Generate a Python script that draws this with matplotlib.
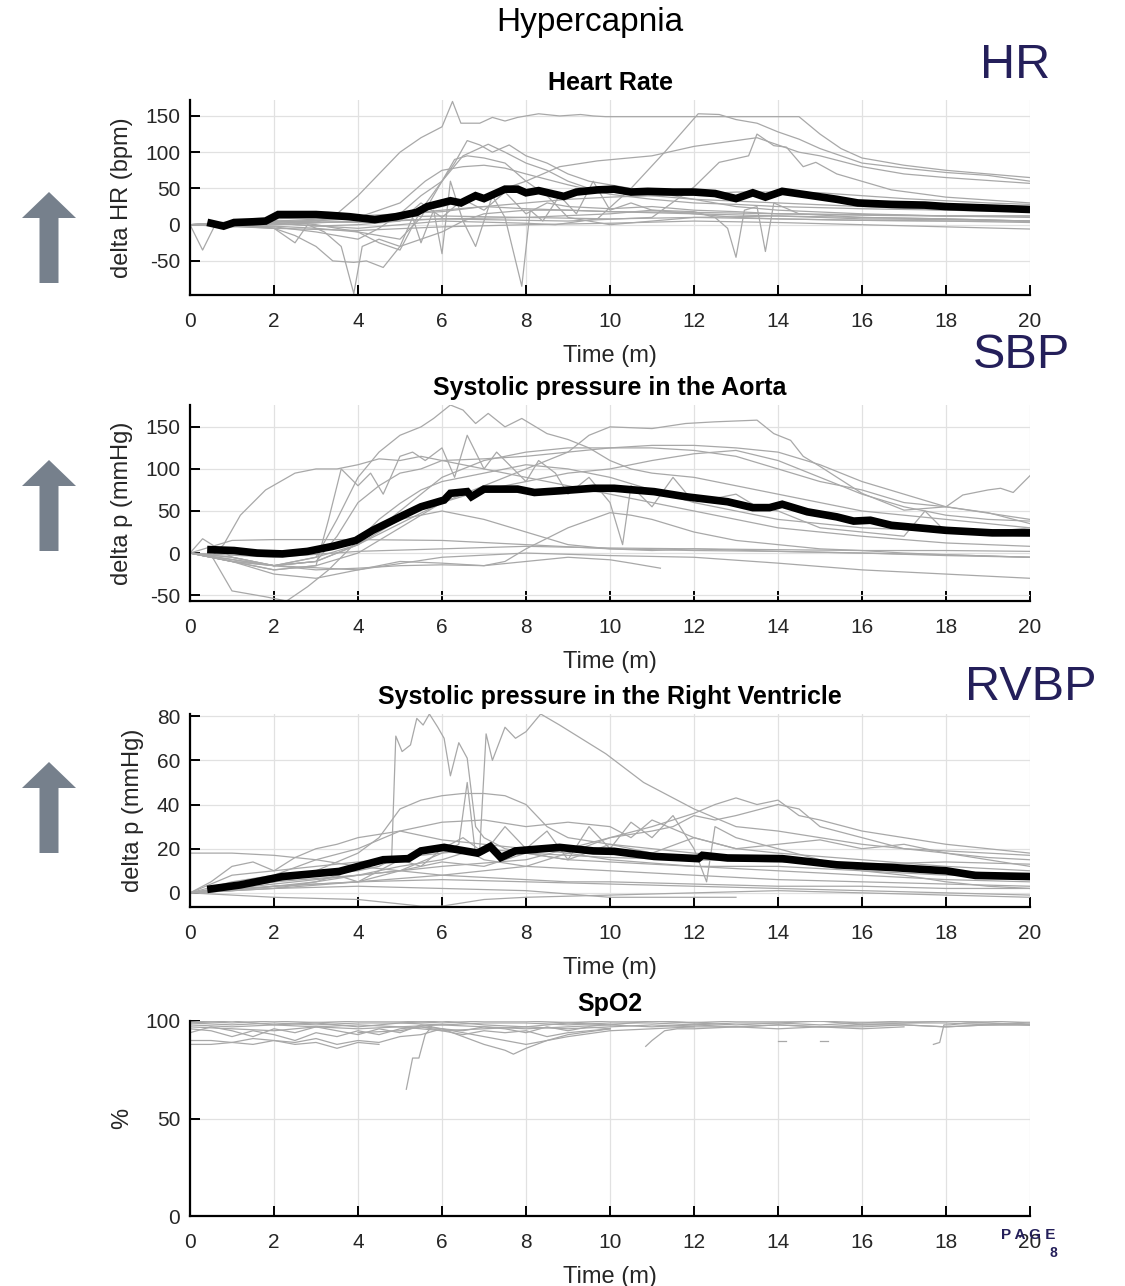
import numpy as np
import matplotlib
matplotlib.use('Agg')
from matplotlib import pyplot as plt
from matplotlib.patches import Polygon

plt.rcParams['font.family'] = ['Liberation Sans', 'DejaVu Sans']
plt.rcParams['axes.unicode_minus'] = False

# ---------------- data ----------------
# Heart rate, individual subjects
hr_gray_t = [
    [0, 1, 2, 3, 3.5, 4, 4.5, 5, 5.5, 6, 6.25, 6.45, 6.9, 7.2, 7.5, 7.8, 8.3, 8.8, 9.3, 9.6, 9.9, 14.5, 15, 15.5, 16, 17, 18, 19, 20],
    [0, 2, 4, 6, 8, 8.7, 9.7, 10.5, 11.3, 12.1, 12.6, 13, 13.5, 14, 14.5, 15, 15.5, 16, 17, 18, 19, 20],
    [0, 3, 6, 9, 11, 12, 12.6, 13.3, 13.5, 13.9, 14.2, 14.6, 14.9, 15.4, 16.7, 18, 20],
    [0, 2, 3, 4, 4.5, 5, 5.5, 6, 6.3, 6.6, 6.9, 7.2, 7.6, 8, 8.5, 9, 9.5, 10, 11, 12, 13, 14, 16, 18, 20],
    [0, 2, 3, 4, 5, 5.5, 6, 6.5, 7.1, 7.5, 8, 8.5, 9, 9.5, 10, 11, 12, 14, 16, 18, 20],
    [0, 1, 2, 3, 4, 5, 5.6, 6, 6.5, 7, 7.5, 8, 9, 10, 11, 12, 13, 14, 16, 18, 20],
    [0, 2, 4, 5, 6, 7, 8, 8.8, 9.7, 11, 12, 13.5, 14.5, 15, 16, 17, 18, 20],
    [0, 1, 2, 2.5, 3, 3.4, 3.9, 4.2, 4.6, 5, 5.5, 6, 6.5, 7, 8, 9, 10, 12, 14, 16, 18, 20],
    [0, 0.3, 0.6, 1, 2, 2.5, 2.8, 3.2, 3.6, 3.9, 4.1, 4.5, 5, 5.3, 5.5, 5.8, 6, 6.2, 6.5, 6.8, 7.2, 7.5, 7.9, 8.1, 8.4, 8.8, 9.2, 9.6, 10, 10.5, 11, 12, 13, 14, 16, 18, 20],
    [0, 2, 4, 6, 8, 10, 11, 12, 12.5, 12.8, 13.0, 13.2, 13.5, 13.7, 13.9, 14.5, 16, 18, 20],
    [0, 2, 4, 6, 8, 10, 12, 14, 16, 18, 20],
    [0, 2, 4, 5, 6, 7, 8, 9, 10, 12, 14, 16, 18, 20],
    [0, 2, 4, 6, 8, 10, 12, 14, 16, 18, 20],
    [0, 1, 2, 3, 4, 4.5, 5, 5.5, 6, 6.3, 6.6, 7, 7.5, 8, 8.5, 9, 10, 11, 12, 14, 16, 18, 20],
    [0, 1, 2, 3, 4, 5, 6, 7, 8, 9, 10, 11, 12, 13, 14, 15, 16, 17, 18, 19, 20],
    [0, 1, 2, 3, 4, 5, 5.5, 6, 6.5, 7, 7.5, 8, 8.5, 9, 10, 11, 12, 13, 14, 16, 18, 20],
]
hr_gray_v = [
    [0, 3, 5, 3, 15, 40, 70, 100, 120, 135, 170, 140, 140, 148, 143, 148, 153, 150, 152, 150, 149, 149, 125, 105, 92, 82, 75, 70, 65],
    [0, 2, -5, 5, 2, 0, 8, 50, 100, 153, 152, 145, 140, 128, 118, 105, 95, 85, 78, 72, 68, 60],
    [0, 3, 8, 5, 10, 52, 86, 95, 125, 109, 107, 80, 86, 70, 48, 38, 30],
    [0, -3, -10, -20, -5, 15, 40, 60, 85, 116, 110, 100, 110, 95, 85, 70, 60, 55, 45, 35, 25, 20, 15, 12, 10],
    [0, 5, 0, -10, -20, 10, 60, 95, 111, 100, 85, 75, 60, 50, 45, 40, 35, 30, 25, 20, 18],
    [0, 2, 4, 6, 10, 30, 60, 75, 80, 82, 78, 70, 55, 42, 35, 30, 28, 25, 22, 20, 18],
    [0, 0, 5, 15, 25, 40, 60, 80, 88, 95, 108, 120, 100, 95, 80, 70, 65, 57],
    [0, -2, -5, -15, -30, -50, -52, -50, -59, -30, -20, -10, 5, 15, 20, 20, 18, 15, 12, 10, 8, 5],
    [0, -35, 0, 2, -5, -25, 0, -10, -30, -95, -30, -20, -30, 10, -25, 20, -40, 60, 5, -30, 40, 10, -85, 20, 5, 40, 15, 60, 20, 30, 20, 15, 10, 8, 6, 5, 3],
    [0, 5, 3, 8, 10, 15, 20, 18, 10, -5, -45, 20, 25, -37, 30, 15, 10, 8, 5],
    [0, -5, -8, -3, 0, 2, 5, 3, 0, -3, -6],
    [0, 3, 8, 15, 20, 25, 22, 20, 18, 17, 15, 13, 12, 12],
    [0, 5, 10, 12, 10, 8, 10, 8, 6, 5, 5],
    [0, 0, -2, -5, -10, -25, -35, 20, 60, 90, 95, 92, 85, 60, 40, 10, 0, 5, 10, 12, 8, 7, 5],
    [0, 4, 8, 10, 12, 15, 18, 25, 30, 35, 38, 40, 42, 45, 45, 44, 40, 36, 33, 30, 28],
    [0, -3, 2, -2, 0, 5, 30, 10, 35, 20, 45, 15, 30, 25, 22, 25, 20, 18, 15, 14, 12, 12],
]
hr_mean_t = [0.5, 0.8, 1.05, 1.5, 1.8, 2.1, 2.5, 3.0, 3.3, 3.8, 4.4, 4.9, 5.4, 5.65, 6.2, 6.45, 6.8, 7.0, 7.5, 7.8,
             8.0, 8.3, 8.9, 9.2, 9.7, 10.1, 10.5, 10.9, 11.5, 12.0, 12.5, 13.0, 13.4, 13.7, 14.1, 14.7, 15.4, 15.9, 16.7, 17.5,
             18.0, 19.0, 20.0]
hr_mean_v = [2, -2, 3, 4, 5, 14, 14, 14, 13, 11, 7, 11, 17, 25, 33, 30, 40, 36, 49, 49,
             44, 47, 39, 45, 48, 49, 45, 46, 45, 45, 43, 36, 44, 38, 46, 41, 35, 30, 28, 27,
             25, 23, 21]

# Systolic pressure in the aorta
sbp_gray_t = [
    [0, 0.5, 0.8, 1.2, 1.8, 2.5, 3, 3.5, 4, 4.5, 5, 5.5, 6, 7, 8, 9, 10, 11, 12, 13, 14, 15, 16, 18, 20],
    [0, 1, 2, 3, 3.5, 4, 4.5, 5, 5.5, 5.8, 6.2, 6.5, 6.8, 7.1, 7.5, 7.9, 8.5, 9, 9.5, 10, 10.5, 11, 12, 13, 14, 15, 16, 17, 18, 19, 20],
    [0, 1, 2, 3, 4, 5, 6, 7, 8, 9, 9.5, 10, 11, 11.8, 12.5, 13.5, 13.9, 14.3, 14.6, 15, 16, 17, 18, 19, 20],
    [0, 1, 2, 3, 4, 5, 6, 7, 8, 9, 10, 11, 12, 13, 14, 15, 16, 17, 18, 18.4, 19, 19.3, 19.6, 20],
    [0, 0.5, 1.0, 1.8, 2.3, 2.8, 3.3, 4, 4.5, 5, 5.5, 6, 7, 8, 9, 10, 11, 12, 13, 14, 15, 16, 17, 18, 20],
    [0, 1, 2, 3, 4, 5, 6, 7, 8, 9, 10, 10.5, 11.2],
    [0, 2, 4, 6, 8, 10, 12, 14, 16, 18, 20],
    [0, 2, 4, 6, 8, 10, 12, 14, 16, 18, 20],
    [0, 1, 2, 4, 6, 8, 10, 12, 14, 16, 18, 20],
    [0, 1, 2, 3, 4, 5, 6, 6.5, 7, 8, 9, 10, 11, 12, 14, 16, 18, 20],
    [0, 1, 2, 3, 4, 5, 6, 7, 7.5, 8, 9, 10, 10.5, 11, 12, 13, 14, 15, 16, 17, 18, 20],
    [0, 1, 2, 3, 3.5, 4, 4.5, 5, 5.5, 6, 6.5, 7, 8, 9, 10, 11, 12, 13, 14, 16, 18, 20],
    [0, 1, 2, 3, 3.3, 3.6, 4, 4.3, 4.6, 5, 5.3, 5.6, 6, 6.3, 6.6, 7, 7.3, 7.6, 8, 8.3, 8.7, 9, 9.5, 10, 10.3, 10.5, 11, 11.5, 12, 12.5, 13, 13.5, 14, 15, 16, 17, 17.5, 18, 19, 20],
    [0, 0.3, 1, 2, 3, 4, 5, 6, 7, 8, 9, 10, 11, 12, 13, 14, 15, 16, 17, 18, 19, 20],
]
sbp_gray_v = [
    [0, -5, 10, 45, 75, 95, 100, 100, 105, 112, 110, 115, 110, 112, 115, 120, 125, 128, 128, 125, 120, 105, 85, 55, 40],
    [0, -10, -15, -5, 40, 90, 120, 140, 150, 160, 176, 170, 154, 166, 150, 160, 142, 135, 125, 110, 100, 95, 90, 80, 70, 60, 50, 45, 40, 35, 30],
    [0, -10, -20, -15, 0, 30, 60, 80, 100, 120, 140, 150, 148, 154, 156, 158, 142, 134, 115, 103, 71, 51, 55, 48, 35],
    [0, -5, -15, -10, 10, 50, 90, 110, 120, 125, 125, 125, 122, 115, 100, 85, 75, 60, 55, 69, 75, 77, 72, 92],
    [0, -2, -45, -52, -57, -40, -20, 15, 40, 59, 75, 85, 95, 105, 100, 90, 75, 60, 50, 40, 35, 30, 28, 25, 20],
    [0, -10, -25, -30, -20, -10, -12, -15, -10, -5, -8, -12, -18],
    [0, -15, -20, -5, 0, -3, -5, -12, -20, -25, -30],
    [0, -5, 2, 5, 8, 6, 5, 4, 3, 3, 2],
    [0, 15, 16, 16, 15, 10, 5, 3, 2, 0, -2, -5],
    [0, -10, -15, -5, 10, 40, 50, 45, 40, 25, 10, 5, 3, 5, 2, 0, -3, -5],
    [0, -8, -15, -20, -18, -15, -14, -15, -10, 5, 30, 48, 45, 40, 25, 15, 10, 5, 3, 0, -2, -5],
    [0, -5, -15, -10, 20, 60, 80, 95, 100, 110, 105, 100, 90, 80, 70, 60, 50, 40, 30, 20, 12, 8],
    [0, -10, -20, -15, 40, 100, 80, 95, 70, 115, 120, 110, 125, 90, 140, 100, 120, 105, 85, 110, 95, 70, 90, 60, 10, 80, 55, 90, 60, 65, 70, 55, 50, 30, 25, 20, 50, 25, 25, 30],
    [0, 17, -5, -15, -10, 10, 35, 60, 75, 85, 95, 100, 110, 118, 122, 110, 90, 70, 55, 45, 40, 38],
]
sbp_mean_t = [0.5, 1.05, 1.6, 2.2, 2.8, 3.4, 3.95, 4.35, 5.0, 5.5, 6.05, 6.2, 6.6, 6.7, 7.0, 7.8, 8.2, 8.8, 9.6, 10.1,
              11.05, 11.8, 12.8, 13.4, 13.8, 14.1, 14.7, 15.4, 15.8, 16.2, 16.7, 18.0, 19.1, 20.0]
sbp_mean_v = [4, 3, 0, -1, 2, 8, 15, 27, 43, 55, 63, 71, 73, 67, 76, 76, 72, 74, 77, 77,
              73, 67, 61, 54, 54, 58, 49, 43, 38, 39, 33, 27, 24, 24]

# Systolic pressure in the right ventricle
rv_gray_t = [
    [0, 1, 2, 3, 4, 4.5, 4.8, 4.9, 5.05, 5.25, 5.4, 5.55, 5.7, 5.9, 6.05, 6.2, 6.4, 6.6, 6.8, 7.0, 7.5, 8, 9, 10, 12, 14, 16, 18, 20],
    [0, 2, 4, 5, 6, 6.4, 6.6, 6.8, 7, 8, 10, 12, 14, 16, 18, 20],
    [0, 1, 2, 3, 4, 5, 6, 6.5, 6.9, 7.05, 7.2, 7.5, 7.75, 8.0, 8.35, 8.8, 9.9, 10.8, 12, 12.5, 13, 14, 15, 16, 17, 18, 19, 20],
    [0, 1, 2, 3, 4, 5, 6, 7, 8, 9, 10, 12, 14, 16, 18, 20],
    [0, 1, 2, 3, 4, 4.5, 5, 5.5, 6, 6.5, 7, 7.5, 8, 8.5, 9, 10, 11, 12, 14, 16, 18, 20],
    [0, 2, 4, 6, 8, 9, 10, 11, 12, 12.5, 13, 13.5, 14, 14.5, 15, 16, 17, 18, 19, 20],
    [0, 2, 4, 6, 8, 9, 10, 11, 11.5, 12, 12.5, 13, 14, 14.5, 15, 16, 17, 18, 19, 20],
    [0, 1, 2, 3, 4, 5, 6, 7, 8, 9, 10, 10.5, 11, 12, 13, 14, 16, 18, 20],
    [0, 1, 2, 3, 3.5, 4, 4.5, 5, 5.5, 6, 6.5, 7, 7.5, 8, 8.5, 9, 9.5, 10, 10.5, 11, 11.5, 12, 12.3, 12.5, 13, 14, 15, 16, 17, 18, 19, 20],
    [0, 2, 4, 5, 5.5, 6, 7, 8, 10, 12, 14, 16, 18, 20],
    [0, 2, 4, 6, 8, 10, 12, 14, 16, 18, 20],
    [0, 1, 2, 3, 4, 5, 6, 7, 8, 9, 10, 12, 14, 16, 18, 20],
    [0, 2, 4, 6, 8, 10, 11, 12, 13],
    [0, 0.5, 1, 1.5, 2, 2.5, 3, 3.5, 4, 5, 6, 7, 8, 9, 10, 12, 14, 16, 18, 20],
    [0, 1, 2, 3, 4, 5, 6, 7, 8, 9, 10, 11, 12, 13, 14, 15, 16, 17, 18, 19, 20],
]
rv_gray_v = [
    [0, 3, 5, 8, 10, 12, 15, 71, 64, 67, 79, 76, 81, 75, 70, 53, 68, 61, 30, 25, 20, 18, 15, 14, 12, 12, 10, 8, 8],
    [0, 2, 5, 10, 18, 22, 50, 17, 15, 12, 10, 8, 6, 5, 4, 3],
    [0, 2, 4, 6, 8, 12, 15, 18, 20, 72, 60, 75, 70, 73, 81, 76, 63, 50, 38, 34, 30, 28, 25, 22, 20, 19, 18, 17],
    [18, 18, 17, 15, 12, 10, 8, 7, 6, 5, 5, 4, 3, 3, 2, 2],
    [0, 2, 5, 10, 18, 25, 38, 42, 44, 45, 45, 44, 40, 30, 25, 22, 20, 18, 15, 12, 10, 8],
    [0, 3, 5, 8, 12, 18, 25, 30, 36, 40, 43, 40, 42, 35, 33, 28, 25, 22, 20, 18],
    [0, 5, 8, 12, 15, 20, 25, 28, 30, 35, 33, 35, 40, 38, 30, 25, 20, 18, 15, 12],
    [0, 5, 8, 15, 20, 28, 32, 33, 30, 32, 30, 25, 33, 25, 20, 18, 15, 12, 10],
    [0, 3, 2, 5, 8, 5, 10, 15, 12, 20, 25, 18, 30, 20, 28, 15, 30, 20, 32, 25, 35, 20, 5, 30, 25, 20, 15, 10, 8, 5, 3, 2],
    [0, -2, -3, -5, -6, -6, -3, -2, -1, 0, 1, 0, -1, -2],
    [0, 3, 5, 6, 5, 4, 3, 2, 1, 0, -1],
    [0, 8, 10, 12, 14, 16, 18, 20, 18, 17, 16, 15, 14, 13, 14, 13],
    [0, 2, 3, 2, 1, -2, -2, -2, -2],
    [0, 5, 12, 14, 10, 16, 20, 22, 25, 28, 24, 22, 20, 18, 15, 12, 10, 8, 6, 5],
    [0, 1, 3, 5, 8, 10, 14, 12, 18, 15, 22, 18, 25, 20, 22, 24, 20, 22, 18, 16, 15],
]
rv_mean_t = [0.5, 1.2, 2.2, 3.55, 4.6, 5.2, 5.5, 6.05, 6.85, 7.15, 7.4, 7.75, 8.8, 9.6, 10.1, 11.05, 12.1, 12.2, 12.8, 14.1,
             15.4, 16.7, 18.0, 18.7, 20.0]
rv_mean_v = [1.8, 3.6, 7.4, 9.7, 15, 15.5, 19, 20.6, 18, 21, 16, 19, 20.6, 19, 18.8, 16.5, 15.5, 17, 15.8, 15.5,
             12.7, 11.5, 10, 7.9, 7.4]

# SpO2 (absolute %)
t_min = [0, 1, 2, 3, 4, 5, 6, 7, 8, 9, 10, 11, 12, 13, 14, 15, 16, 17, 18, 19, 20]
t_half = [0, 0.5, 1, 1.5, 2, 2.5, 3, 3.5, 4, 4.5, 5, 5.5, 6, 6.5, 7, 7.5, 8, 8.5, 9, 9.5, 10]
spo2_gray_t = [
    t_min, t_min, t_min, t_min, t_min,
    [0, 0.5, 1, 1.5, 2, 2.5, 3, 3.5, 4, 4.5, 5, 5.5, 6, 6.5, 7, 7.5, 8, 9, 10, 11, 12],
    [0, 0.5, 1, 1.5, 2, 2.5, 3, 3.5, 4, 4.5],
    [4, 5, 5.5, 6, 6.5, 7, 7.5, 7.7, 8, 8.5, 9, 10],
    [5.15, 5.3, 5.45, 5.6, 5.75],
    [14.0, 14.2], [15.0, 15.2],
    [17.7, 17.85, 17.95, 18.1, 18.5, 19, 20],
    [10.85, 11.0, 11.3, 11.6, 12, 13, 14, 15, 16, 17],
    t_half, t_half,
]
spo2_gray_v = [
    [99, 98, 99, 98, 99, 99, 98, 99, 99, 98, 99, 99, 98, 99, 99, 98, 99, 99, 99, 98, 99],
    [100, 99, 100, 99, 100, 100, 99, 100, 100, 99, 100, 100, 99, 100, 100, 100, 99, 100, 100, 100, 99],
    [97, 96, 95, 97, 96, 97, 95, 96, 97, 96, 97, 98, 97, 97, 98, 97, 97, 98, 97, 98, 98],
    [98, 97, 98, 97, 98, 97, 98, 97, 96, 97, 98, 97, 98, 97, 98, 97, 98, 98, 97, 98, 98],
    [99, 100, 98, 99, 97, 99, 100, 98, 97, 99, 98, 100, 99, 98, 99, 100, 98, 99, 100, 99, 98],
    [90, 90, 89, 88, 90, 89, 91, 88, 90, 89, 92, 93, 96, 94, 92, 90, 88, 92, 95, 96, 97],
    [88, 88, 89, 91, 90, 88, 89, 86, 89, 88],
    [94, 95, 97, 96, 92, 88, 85, 83, 86, 90, 93, 96],
    [65, 81, 81, 93, 97],
    [90, 90], [90, 90],
    [88, 89, 98, 98, 99, 99, 98],
    [87, 90, 95, 96, 96, 97, 96, 97, 96, 97],
    [96, 95, 92, 95, 93, 90, 94, 92, 95, 93, 96, 97, 95, 93, 95, 94, 95, 92, 94, 95, 96],
    [94, 97, 95, 92, 96, 94, 97, 95, 93, 96, 94, 98, 96, 95, 97, 96, 94, 97, 95, 97, 96],
]

panel_titles = ['Heart Rate', 'Systolic pressure in the Aorta',
                'Systolic pressure in the Right Ventricle', 'SpO2']
panel_ylabels = ['delta HR (bpm)', 'delta p (mmHg)', 'delta p (mmHg)', '%']
panel_yticks = [[-50, 0, 50, 100, 150], [-50, 0, 50, 100, 150], [0, 20, 40, 60, 80], [0, 50, 100]]
panel_ylims = [(-97, 172), (-57, 176), (-6.4, 81), (0, 100)]
side_labels = ['HR', 'SBP', 'RVBP']
x_ticks = list(range(0, 21, 2))

# ---------------- figure ----------------
W, H = 1125, 1286
fig = plt.figure(figsize=(W / 100, H / 100), dpi=100)

# axes boxes in pixels: (top, bottom)
boxes = [(100, 295), (405, 601), (714, 907), (1021, 1216)]
gray = '#a8a8a8'
navy = '#241f5a'

grays = [(hr_gray_t, hr_gray_v), (sbp_gray_t, sbp_gray_v), (rv_gray_t, rv_gray_v), (spo2_gray_t, spo2_gray_v)]
means = [(hr_mean_t, hr_mean_v), (sbp_mean_t, sbp_mean_v), (rv_mean_t, rv_mean_v), None]

for i, (top, bot) in enumerate(boxes):
    ax = fig.add_axes([190 / W, 1 - bot / H, 840 / W, (bot - top) / H])
    gt, gv = grays[i]
    for t, v in zip(gt, gv):
        ax.plot(t, v, color=gray, lw=0.9, zorder=2)
    if means[i] is not None:
        ax.plot(means[i][0], means[i][1], color='black', lw=5.5, zorder=3, solid_joinstyle='miter')
    ax.set_xlim(0, 20)
    ax.set_ylim(*panel_ylims[i])
    ax.set_xticks(x_ticks)
    ax.set_yticks(panel_yticks[i])
    ax.grid(True, color='#e1e1e1', lw=0.9, zorder=0)
    ax.set_axisbelow(True)
    for s in ['top', 'right']:
        ax.spines[s].set_visible(False)
    for s in ['left', 'bottom']:
        ax.spines[s].set_linewidth(1.6)
    ax.tick_params(direction='in', length=7, width=1.4, labelsize=15, colors='black', labelcolor='#262626')
    ax.tick_params(axis='x', pad=12)
    ax.tick_params(axis='y', pad=7)
    ax.set_title(panel_titles[i], fontsize=18, fontweight='bold', pad=7)
    ax.set_xlabel('Time (m)', fontsize=17, color='#262626', labelpad=10)
    ax.set_ylabel(panel_ylabels[i], fontsize=17, color='#262626', labelpad=9)

fig.text(590 / W, 1 - 22 / H, 'Hypercapnia', fontsize=24, ha='center', va='center')

# overlay for the arrows and big side labels
ov = fig.add_axes([0, 0, 1, 1])
ov.set_xlim(0, W)
ov.set_ylim(H, 0)
ov.axis('off')

arrow_tips = [192, 460, 762]
for tip in arrow_tips:
    cx = 49
    pts = [(cx, tip), (cx + 27, tip + 26), (cx + 9.5, tip + 26), (cx + 9.5, tip + 91),
           (cx - 9.5, tip + 91), (cx - 9.5, tip + 26), (cx - 27, tip + 26)]
    ov.add_patch(Polygon(pts, closed=True, color='#76808c', lw=0))

label_pos = [(1015, 65), (1021, 355), (1031, 688)]
for lab, (x, y) in zip(side_labels, label_pos):
    ov.text(x, y, lab, fontsize=35, color=navy, ha='center', va='center')

ov.text(1028, 1235, 'P A G E', fontsize=11, color=navy, fontweight='bold', ha='center', va='center')
ov.text(1053, 1253, '8', fontsize=10, color=navy, fontweight='bold', ha='center', va='center')

fig.savefig('out.png', dpi=100)
